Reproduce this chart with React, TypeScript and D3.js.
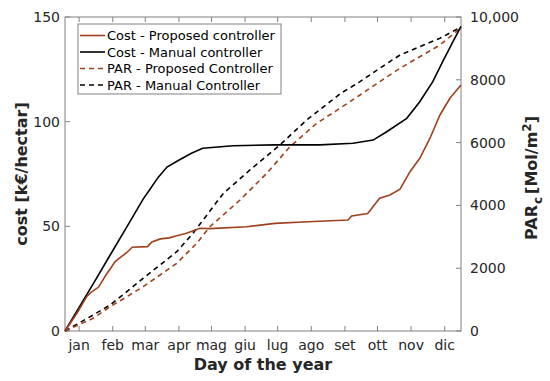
import React from "react";
import { scaleLinear, line, format } from "d3";

// [day, cost k€/hectar]
const costProposed: [number, number][] = [
  [0, 0], [11, 8.5], [20, 16.4], [24, 18.5], [31, 21], [38, 27], [41.5, 29.5],
  [46, 33], [52, 35.5], [57, 37.5], [62, 40], [76, 40.3], [80, 42.5], [88, 44],
  [96, 44.5], [103, 45.5], [112, 46.7], [124.4, 49.1], [133.6, 48.9], [167.5, 49.8],
  [193.5, 51.4], [224, 52.2], [260.8, 53], [264.2, 54.9], [279, 56.1], [290, 63.4],
  [299.5, 65], [308.8, 67.8], [318, 76.1], [327, 82.5], [336.4, 92.1], [345.6, 103.2],
  [354.8, 111.2], [365, 117.5],
];
const costManual: [number, number][] = [
  [0, 0], [13.8, 12], [26, 22.5], [41.5, 36.2], [57, 49.7], [72, 63], [78, 67.5],
  [86, 73.5], [94, 78.3], [106, 81.9], [117, 85], [127, 87.3], [155, 88.5],
  [193.5, 88.9], [235, 88.9], [265.5, 89.7], [284, 91.2], [296.5, 95.2], [315, 101.6],
  [327, 109.5], [339, 119.1], [348, 128.6], [357.6, 138.2], [365, 145.5],
];
// [day, PAR_c Mol/m2]
const parProposed: [number, number][] = [
  [0, 0], [26, 404], [41.5, 774], [57, 1092], [72, 1411], [87.6, 1784], [103, 2156],
  [121.4, 2793], [133.6, 3322], [161.3, 4172], [186, 5023], [207.4, 5870], [232, 6615],
  [253.5, 7093], [271.9, 7517], [290, 7940], [308.8, 8367], [327, 8736], [345.6, 9109],
  [365, 9660],
];
const parManual: [number, number][] = [
  [0, 0], [26, 510], [41.5, 828], [57, 1252], [72, 1678], [87.6, 2102], [103, 2526],
  [118, 3112], [146, 4386], [170.5, 5128], [198, 5924], [222.8, 6720], [244, 7294],
  [254, 7564], [271.9, 7940], [290, 8367], [308.8, 8791], [327, 9055], [345.6, 9322],
  [365, 9682],
];

const monthLabels = ["jan", "feb", "mar", "apr", "mag", "giu", "lug", "ago", "set", "ott", "nov", "dic"];
const monthTickDays = [13, 44, 74, 105, 135, 166, 196, 227, 258, 288, 319, 350];
const costTicks = [0, 50, 100, 150];
const parTicks = [0, 2000, 4000, 6000, 8000, 10000];

const brown = "#a0401c";
const legendItems = [
  { label: "Cost - Proposed controller", color: brown, dash: "" },
  { label: "Cost - Manual controller", color: "#000", dash: "" },
  { label: "PAR - Proposed Controller", color: brown, dash: "5,4" },
  { label: "PAR - Manual Controller", color: "#000", dash: "5,4" },
];

const W = 550;
const H = 381;
const m = { left: 65, right: 461, top: 17, bottom: 331 };
const axisColor = "#808080";
const textColor = "#262626";
const font = "DejaVu Sans, sans-serif";

export default function App() {
  const x = scaleLinear().domain([0, 365]).range([m.left, m.right]);
  const yL = scaleLinear().domain([0, 150]).range([m.bottom, m.top]);
  const yR = scaleLinear().domain([0, 10000]).range([m.bottom, m.top]);

  const costLine = line<[number, number]>().x((d) => x(d[0])).y((d) => yL(d[1]));
  const parLine = line<[number, number]>().x((d) => x(d[0])).y((d) => yR(d[1]));
  const fmtR = (d: number) => (d >= 10000 ? format(",")(d) : String(d));

  return (
    <svg width={W} height={H} style={{ position: "absolute", left: 0, top: 0, background: "#fff" }} fontFamily={font}>
      {/* box */}
      <rect x={m.left} y={m.top} width={m.right - m.left} height={m.bottom - m.top} fill="none" stroke={axisColor} strokeWidth={1} />

      {/* x ticks top and bottom */}
      {monthTickDays.map((d, i) => (
        <g key={i}>
          <line x1={x(d)} x2={x(d)} y1={m.bottom} y2={m.bottom - 5} stroke={axisColor} />
          <line x1={x(d)} x2={x(d)} y1={m.top} y2={m.top + 5} stroke={axisColor} />
          <text x={x(d)} y={350} fontSize={14} textAnchor="middle" fill={textColor}>
            {monthLabels[i]}
          </text>
        </g>
      ))}

      {/* left axis */}
      {costTicks.map((t) => (
        <g key={t}>
          <line x1={m.left} x2={m.left + 5} y1={yL(t)} y2={yL(t)} stroke={axisColor} />
          <text x={60} y={yL(t)} dy="0.36em" fontSize={14} textAnchor="end" fill={textColor}>
            {t}
          </text>
        </g>
      ))}

      {/* right axis */}
      {parTicks.map((t) => (
        <g key={t}>
          <line x1={m.right} x2={m.right - 5} y1={yR(t)} y2={yR(t)} stroke={axisColor} />
          <text x={470} y={yR(t)} dy="0.36em" fontSize={14} textAnchor="start" fill={textColor}>
            {fmtR(t)}
          </text>
        </g>
      ))}

      {/* series */}
      <path d={parLine(parManual) || ""} fill="none" stroke="#000" strokeWidth={1.6} strokeDasharray="5,4" />
      <path d={parLine(parProposed) || ""} fill="none" stroke={brown} strokeWidth={1.6} strokeDasharray="5,4" />
      <path d={costLine(costManual) || ""} fill="none" stroke="#000" strokeWidth={1.6} />
      <path d={costLine(costProposed) || ""} fill="none" stroke={brown} strokeWidth={1.6} />

      {/* legend */}
      <rect x={78} y={24} width={203} height={70} fill="#fff" stroke={axisColor} />
      {legendItems.map((it, i) => {
        const ly = 35.5 + i * 16.5;
        return (
          <g key={it.label}>
            <line x1={80} x2={105} y1={ly} y2={ly} stroke={it.color} strokeWidth={1.6} strokeDasharray={it.dash || undefined} />
            <text x={107} y={ly} dy="0.36em" fontSize={13} fill="#000">
              {it.label}
            </text>
          </g>
        );
      })}

      {/* axis titles */}
      <text x={(m.left + m.right) / 2} y={370} fontSize={16} fontWeight="bold" textAnchor="middle" fill={textColor}>
        Day of the year
      </text>
      <text transform={`translate(27,${(m.top + m.bottom) / 2}) rotate(-90)`} fontSize={16} fontWeight="bold" textAnchor="middle" fill={textColor}>
        cost [k€/hectar]
      </text>
      <text transform={`translate(537,178) rotate(-90)`} fontSize={16} fontWeight="bold" textAnchor="middle" fill={textColor}>
        PAR
        <tspan fontSize={12} dy={5} dx={1}>c</tspan>
        <tspan dy={-5} dx={3}>[Mol/m</tspan>
        <tspan fontSize={12} dy={-6}>2</tspan>
        <tspan dy={6}>]</tspan>
      </text>
    </svg>
  );
}
